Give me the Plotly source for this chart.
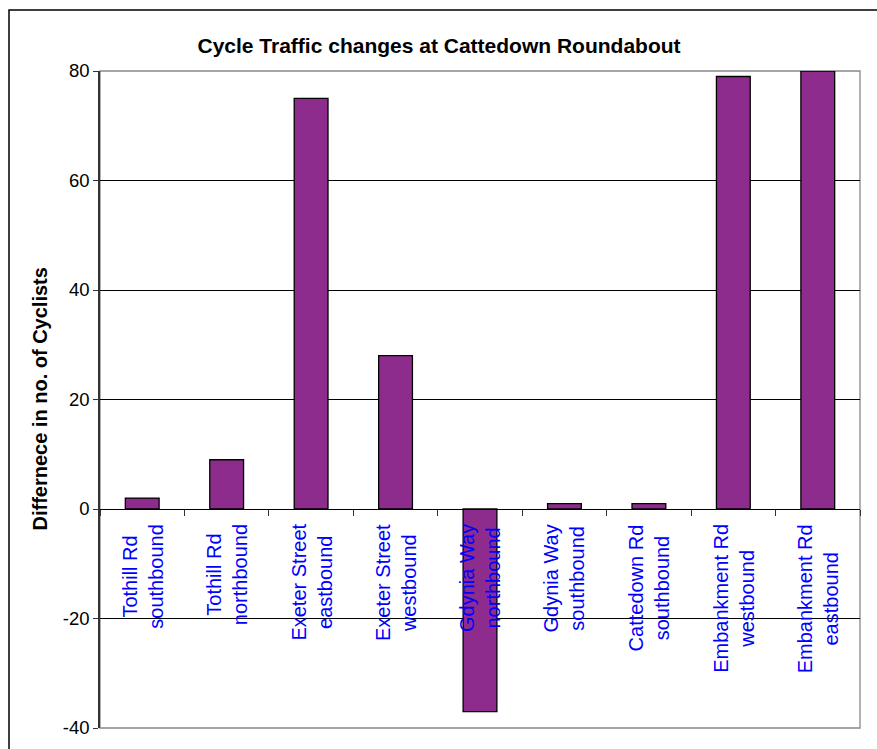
import plotly.graph_objects as go

categories = [
    "Tothill Rd<br>southbound",
    "Tothill Rd<br>northbound",
    "Exeter Street<br>eastbound",
    "Exeter Street<br>westbound",
    "Gdynia Way<br>northbound",
    "Gdynia Way<br>southbound",
    "Cattedown Rd<br>southbound",
    "Embankment Rd<br>westbound",
    "Embankment Rd<br>eastbound",
]
values = [2, 9, 75, 28, -37, 1, 1, 79, 80]
y_ticks = [-40, -20, 0, 20, 40, 60, 80]
y_tick_labels = [str(v) for v in y_ticks]

W, H = 877, 749
L, R, T, B = 100, 17, 71, 21
pw, ph = W - L - R, H - T - B

fig = go.Figure()
fig.add_trace(go.Bar(
    x=categories, y=values,
    marker=dict(color="#8E2C8E", line=dict(color="black", width=1.3)),
    width=0.4,
))

annotations = []
for c in categories:
    annotations.append(dict(
        x=c, y=0, xref="x", yref="y", yanchor="top", xanchor="center",
        yshift=-13, textangle=-90, text=c, showarrow=False, align="center",
        font=dict(family="Liberation Sans, Arial", size=20, color="#0000FF"),
    ))
annotations.append(dict(
    x=(39 - L) / pw, y=0.5, xref="paper", yref="paper", textangle=-90,
    text="<b>Differnece in no. of Cyclists</b>", showarrow=False,
    xanchor="center", yanchor="middle",
    font=dict(family="Liberation Sans, Arial", size=20, color="black"),
))

shapes = [
    # plot area border (gray)
    dict(type="rect", xref="paper", yref="paper", x0=0, x1=1, y0=0, y1=1,
         line=dict(color="#888888", width=1.3), layer="below"),
    # outer chart border
    dict(type="rect", xref="paper", yref="paper",
         x0=(9 - L) / pw, x1=(W + 20 - L) / pw,
         y0=-(B + 20) / ph, y1=1 + (T - 10) / ph,
         line=dict(color="black", width=1.5)),
]

fig.update_layout(
    width=W, height=H,
    margin=dict(l=L, r=R, t=T, b=B),
    paper_bgcolor="white", plot_bgcolor="white",
    showlegend=False,
    font=dict(family="Liberation Sans, Arial", color="black"),
    title=dict(text="<b>Cycle Traffic changes at Cattedown Roundabout</b>",
               x=439 / W, xref="container", xanchor="center",
               y=1 - 46 / H, yref="container", yanchor="middle",
               font=dict(size=21, color="black")),
    xaxis=dict(
        type="category", anchor="free", position=40 / 120,
        showticklabels=False, ticks="outside", tickson="boundaries",
        ticklen=6, tickcolor="#333333", showgrid=False,
        showline=True, linecolor="black", linewidth=1.3,
        range=[-0.5, len(categories) - 0.5],
    ),
    yaxis=dict(
        range=[-40, 80], tickvals=y_ticks, ticktext=y_tick_labels,
        ticks="outside", ticklen=5, tickcolor="#333333",
        showgrid=True, gridcolor="black", gridwidth=1,
        zeroline=True, zerolinecolor="black", zerolinewidth=1.3,
        showline=True, linecolor="#333333", linewidth=1.5,
        tickfont=dict(size=18.5, color="black"),
    ),
    annotations=annotations,
    shapes=shapes,
)

fig.write_html(
    "out.html",
    config={"displayModeBar": False},
    post_script="document.body.style.margin='0';document.body.style.overflow='hidden';",
)
